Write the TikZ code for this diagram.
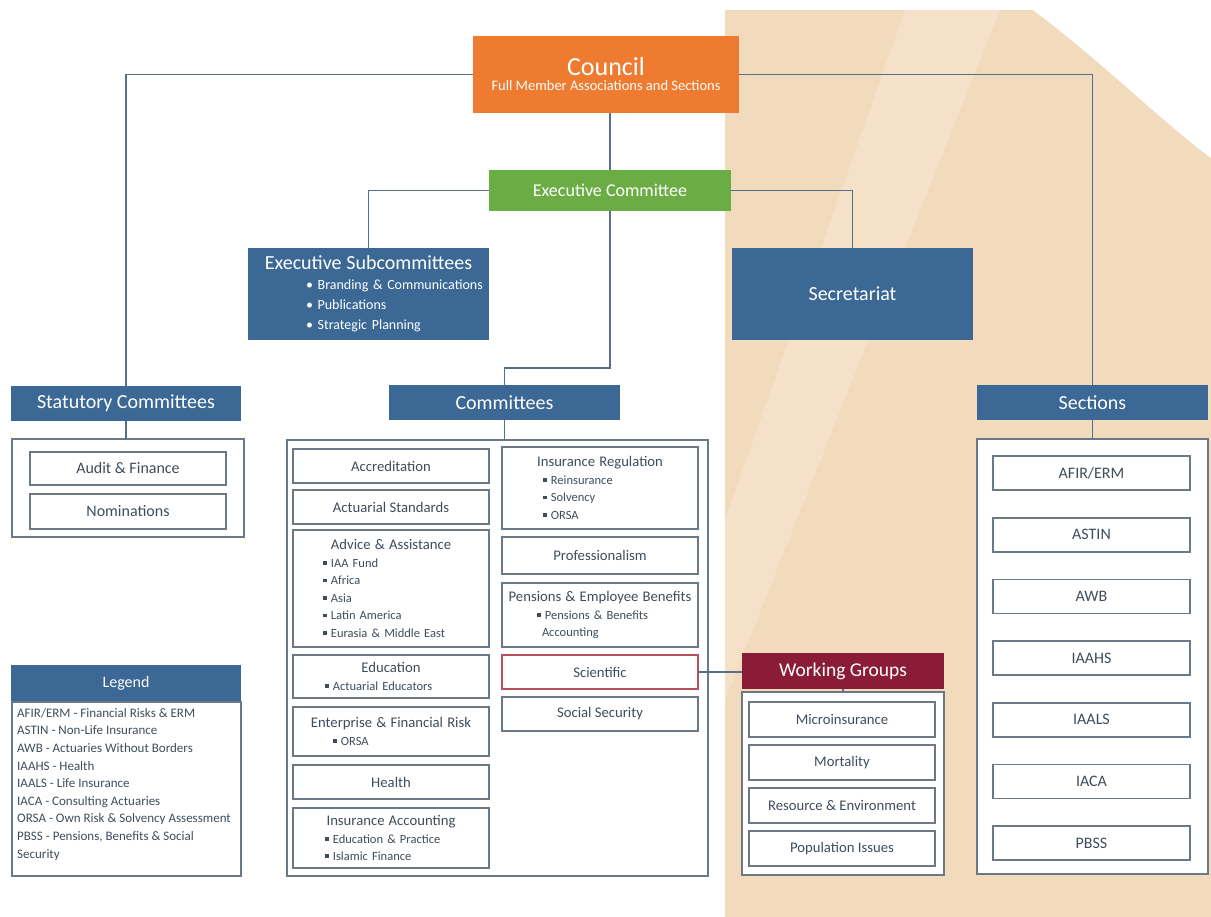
\documentclass[tikz,border=0pt]{standalone}
\usepackage{fontspec}
\setmainfont{Carlito}
\usepackage{tikz}
\usetikzlibrary{positioning}
\definecolor{hdblue}{HTML}{3B6894}
\definecolor{orng}{HTML}{EE7B30}
\definecolor{grn}{HTML}{6BAD45}
\definecolor{wgred}{HTML}{8A1C38}
\definecolor{scired}{HTML}{B5505F}
\definecolor{linec}{HTML}{56708A}
\definecolor{boxc}{HTML}{6B7886}
\definecolor{txtc}{HTML}{3F4D5B}
\definecolor{beige}{HTML}{F2DABD}
\definecolor{beigelt}{HTML}{F9E8D2}
\newcommand{\sqbul}{\rule[0.2em]{0.3em}{0.3em}}
\tikzset{
  link/.style={draw=linec, line width=1.5pt},
  topbox/.style={anchor=north west, inner sep=0pt, outer sep=0pt, align=center, text=white},
  head/.style={topbox, fill=hdblue, font=\fontsize{20}{22}\selectfont},
  frame/.style={draw=boxc, fill=white, line width=1.2pt, anchor=north west, inner sep=0pt, outer sep=0pt},
  item/.style={draw=boxc, fill=white, text=txtc, line width=1.6pt, inner sep=0pt, outer sep=0pt,
    align=center, anchor=north west, font=\fontsize{14.7}{16}\selectfont},
  bigitem/.style={item, font=\fontsize{16}{18}\selectfont},
  % boxes with a title and a list of sub-groups
  listbox/.style={item, text width=#1, align=left, font=\fontsize{12.5}{17.5}\selectfont},
  legtext/.style={anchor=north west, inner sep=0pt, text=txtc, align=left,
    font=\fontsize{13}{17.6}\selectfont}
}

\begin{document}
\begin{tikzpicture}[x=1pt, y=-1pt]
  \useasboundingbox (0,0) rectangle (1211,917);
  % background panel
  \fill[beige] (725,10) rectangle (1211,917);
  \fill[beigelt, opacity=0.5] (905,10) -- (1000,10) -- (725,700) -- (725,520) -- cycle;
  \fill[white] (1033,10) .. controls (1100,60) and (1160,120) .. (1211,158) -- (1211,10) -- cycle;

  % top of the chart
  \node[topbox, fill=orng, minimum width=266pt, minimum height=77pt] (council) at (473,36)
    {{\fontsize{26}{28}\selectfont Council}\\[3pt]{\fontsize{14.5}{16}\selectfont Full Member Associations and Sections}};
  \node[topbox, fill=grn, minimum width=242pt, minimum height=41pt, font=\fontsize{18}{20}\selectfont] (exec) at (489,170) {Executive Committee};
  \node[head, text width=241pt, minimum height=92pt, align=left, font=\fontsize{14}{20}\selectfont] (esub) at (248,248)
    {{\centering\fontsize{20}{22}\selectfont Executive Subcommittees\par}\hspace*{58pt}\textbullet\ Branding \& Communications\\
     \hspace*{58pt}\textbullet\ Publications\\ \hspace*{58pt}\textbullet\ Strategic Planning};
  \node[head, minimum width=241pt, minimum height=92pt] (secr) at (732,248) {Secretariat};

  % statutory committees
  \node[head, minimum width=230pt, minimum height=35pt] (statc) at (11,386) {Statutory Committees};
  \node[frame, minimum width=232pt, minimum height=98pt] (statbox) at (12,439) {};
  \node[bigitem, minimum width=196pt, minimum height=33pt] (audit) at (30,452) {Audit \& Finance};
  \node[bigitem, minimum width=196pt, minimum height=35pt, below=9pt of audit.south west, anchor=north west] (nomin) {Nominations};

  % legend
  \node[head, minimum width=230pt, minimum height=37pt, font=\fontsize{16}{18}\selectfont] (leghd) at (11,665) {Legend};
  \node[frame, minimum width=229pt, minimum height=174pt] (legbody) at (12,702) {};
  \node[legtext, xshift=5pt, yshift=-6pt] (legtxt) at (legbody.north west)
    {AFIR/ERM - Financial Risks \& ERM\\ ASTIN - Non-Life Insurance\\ AWB - Actuaries Without Borders\\
     IAAHS - Health\\ IAALS - Life Insurance\\ IACA - Consulting Actuaries\\
     ORSA - Own Risk \& Solvency Assessment\\ PBSS - Pensions, Benefits \& Social\\ Security};

  % committees
  \node[head, minimum width=231pt, minimum height=35pt] (comm) at (389,385) {Committees};
  \node[frame, minimum width=421pt, minimum height=436pt] (commbox) at (287,440) {};
  \node[item, minimum width=196pt, minimum height=34pt] (accr) at (293,449) {Accreditation};
  \node[item, minimum width=196pt, minimum height=34pt, below=7pt of accr.south west, anchor=north west] (actstd) {Actuarial Standards};
  \node[listbox=196pt, minimum height=117pt, below=6pt of actstd.south west, anchor=north west] (advice)
    {{\centering\fontsize{14.7}{18}\selectfont Advice \& Assistance\par}\hspace*{30pt}\sqbul\ IAA Fund\\
     \hspace*{30pt}\sqbul\ Africa\\ \hspace*{30pt}\sqbul\ Asia\\ \hspace*{30pt}\sqbul\ Latin America\\
     \hspace*{30pt}\sqbul\ Eurasia \& Middle East};
  \node[listbox=196pt, minimum height=43pt, below=8pt of advice.south west, anchor=north west] (educ)
    {{\centering\fontsize{14.7}{18}\selectfont Education\par}\hspace*{32pt}\sqbul\ Actuarial Educators};
  \node[listbox=196pt, minimum height=49pt, below=9pt of educ.south west, anchor=north west] (entr)
    {{\centering\fontsize{14.7}{18}\selectfont Enterprise \& Financial Risk\par}\hspace*{40pt}\sqbul\ ORSA};
  \node[item, minimum width=196pt, minimum height=34pt, below=9pt of entr.south west, anchor=north west] (health) {Health};
  \node[listbox=196pt, minimum height=60pt, below=9pt of health.south west, anchor=north west] (insacc)
    {{\centering\fontsize{14.7}{18}\selectfont Insurance Accounting\par}\hspace*{32pt}\sqbul\ Education \& Practice\\
     \hspace*{32pt}\sqbul\ Islamic Finance};

  \node[listbox=196pt, minimum height=82pt] (insreg) at (502,447)
    {{\centering\fontsize{14.7}{18}\selectfont Insurance Regulation\par}\hspace*{41pt}\sqbul\ Reinsurance\\
     \hspace*{41pt}\sqbul\ Solvency\\ \hspace*{41pt}\sqbul\ ORSA};
  \node[item, minimum width=196pt, minimum height=37pt, below=8pt of insreg.south west, anchor=north west] (prof) {Professionalism};
  \node[listbox=196pt, minimum height=64pt, below=9pt of prof.south west, anchor=north west] (pens)
    {{\centering\fontsize{14.7}{18}\selectfont Pensions \& Employee Benefits\par}\hspace*{35pt}\sqbul\ Pensions \& Benefits\\
     \hspace*{40pt}Accounting};
  \node[item, draw=scired, minimum width=196pt, minimum height=34pt, below=8pt of pens.south west, anchor=north west] (sci) {Scientific};
  \node[item, minimum width=196pt, minimum height=34pt, below=8pt of sci.south west, anchor=north west] (socsec) {Social Security};

  % working groups
  \node[topbox, fill=wgred, minimum width=202pt, minimum height=36pt, font=\fontsize{19.5}{21}\selectfont] (wg) at (742,653) {Working Groups};
  \node[frame, minimum width=202pt, minimum height=183pt] (wgbox) at (742,692) {};
  \node[item, minimum width=186pt, minimum height=35pt] (micro) at (749,702) {Microinsurance};
  \node[item, minimum width=186pt, minimum height=35pt, below=8pt of micro.south west, anchor=north west] (mort) {Mortality};
  \node[item, minimum width=186pt, minimum height=35pt, below=8pt of mort.south west, anchor=north west] (resenv) {Resource \& Environment};
  \node[item, minimum width=186pt, minimum height=35pt, below=8pt of resenv.south west, anchor=north west] (popiss) {Population Issues};

  % sections
  \node[head, minimum width=231pt, minimum height=35pt] (sect) at (977,385) {Sections};
  \node[frame, minimum width=231pt, minimum height=435pt] (sectbox) at (977,439) {};
  \node[bigitem, minimum width=197pt, minimum height=34pt] (afir) at (993,456) {AFIR/ERM};
  \node[bigitem, minimum width=197pt, minimum height=34pt, below=27.7pt of afir.south west, anchor=north west] (astin) {ASTIN};
  \node[bigitem, minimum width=197pt, minimum height=34pt, below=27.7pt of astin.south west, anchor=north west] (awb) {AWB};
  \node[bigitem, minimum width=197pt, minimum height=34pt, below=27.7pt of awb.south west, anchor=north west] (iaahs) {IAAHS};
  \node[bigitem, minimum width=197pt, minimum height=34pt, below=27.7pt of iaahs.south west, anchor=north west] (iaals) {IAALS};
  \node[bigitem, minimum width=197pt, minimum height=34pt, below=27.7pt of iaals.south west, anchor=north west] (iaca) {IACA};
  \node[bigitem, minimum width=197pt, minimum height=34pt, below=27.7pt of iaca.south west, anchor=north west] (pbss) {PBSS};

  % wiring
  \coordinate (cjog) at (504.5,368);
  \draw[link] (council.west) -| (statc.north);
  \draw[link] (council.east) -| (sect.north);
  \draw[link] (exec.north |- council.south) -- (exec.north);
  \draw[link] (exec.west) -| (esub.north);
  \draw[link] (exec.east) -| (secr.north);
  \draw[link] (exec.south) |- (cjog) -| (comm.north);
  \draw[link] (statc.south) -- (statc.south |- statbox.north);
  \draw[link] (comm.south) -- (comm.south |- commbox.north);
  \draw[link] (sect.south) -- (sect.south |- sectbox.north);
  \draw[link] (sci.east) -- (sci.east -| wg.west);
  \draw[link] (wg.south) -- (wgbox.north);
\end{tikzpicture}
\end{document}
